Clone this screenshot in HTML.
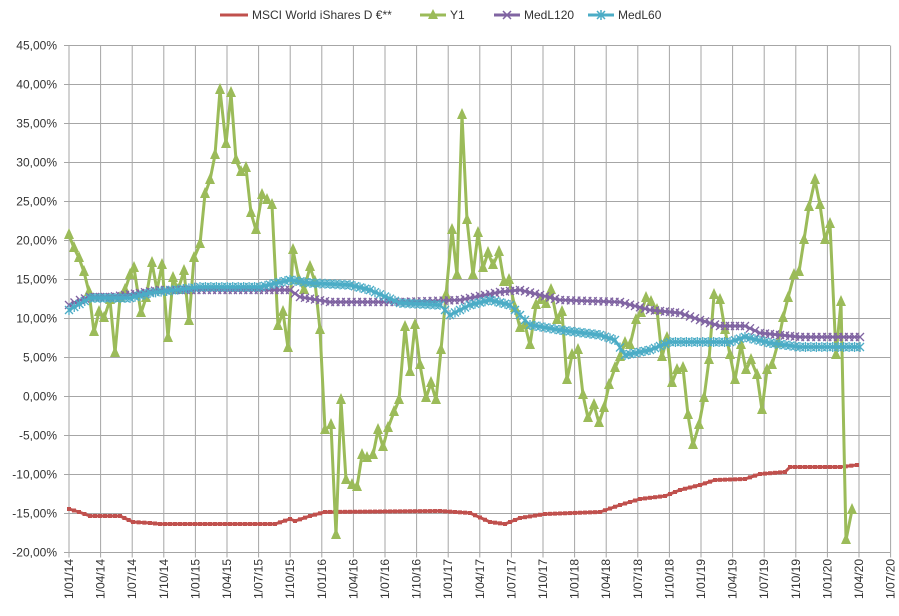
<!DOCTYPE html>
<html><head><meta charset="utf-8"><style>
body{margin:0;background:#fff;}
svg{display:block;font-family:"Liberation Sans",sans-serif;}
</style></head><body>
<svg id="s" width="899" height="616" xmlns="http://www.w3.org/2000/svg">
<g id="grid" stroke="#a6a6a6" stroke-width="1"></g>
<g id="lab" font-size="12" fill="#333"></g>
<g id="ser"></g>
<g font-size="12" fill="#333">
<line x1="220" y1="15" x2="248" y2="15" stroke="#c0504d" stroke-width="3"/>
<text x="252" y="19">MSCI World iShares D €**</text>
<line x1="420" y1="15" x2="446" y2="15" stroke="#9bbb59" stroke-width="3"/>
<polygon points="433,9 428,19 438,19" fill="#9bbb59"/>
<text x="450" y="19">Y1</text>
<line x1="494" y1="15" x2="520" y2="15" stroke="#8064a2" stroke-width="3"/>
<path d="M503,11 l8,8 M511,11 l-8,8" stroke="#8064a2" stroke-width="1.5"/>
<text x="524" y="19">MedL120</text>
<line x1="588" y1="15" x2="614" y2="15" stroke="#4bacc6" stroke-width="3"/>
<path d="M597,11 l8,8 M605,11 l-8,8 M601,10 v10" stroke="#4bacc6" stroke-width="1.5"/>
<text x="618" y="19">MedL60</text>
</g>
</svg>
<script>
var NS="http://www.w3.org/2000/svg";
function el(p,t,a,txt){var e=document.createElementNS(NS,t);for(var k in a)e.setAttribute(k,a[k]);if(txt)e.textContent=txt;p.appendChild(e);return e;}
var g=document.getElementById('grid'),lab=document.getElementById('lab'),ser=document.getElementById('ser');
var x0=69,dx=31.6,y0=45.5,dy=39;
for(var i=0;i<=13;i++){var y=y0+i*dy;el(g,'line',{x1:x0-5,x2:890,y1:y,y2:y});
var v=45-5*i;el(lab,'text',{x:57,y:y+4,'text-anchor':'end'},(v<0?'-':'')+Math.abs(v)+',00%');}
var yrs=['14','15','16','17','18','19','20'],ms=['01','04','07','10'];
for(var i=0;i<=26;i++){var x=x0+i*dx;el(g,'line',{x1:x,x2:x,y1:y0,y2:y0+13*dy+5});
var t='1/'+ms[i%4]+'/'+yrs[Math.floor(i/4)];
el(lab,'text',{x:0,y:0,'text-anchor':'end',transform:'translate('+(x+4)+',559) rotate(-90)'},t);}
function interp(pts,step){var o=[];for(var i=0;i<pts.length-1;i++){var a=pts[i],b=pts[i+1];var n=Math.max(1,Math.round((b[0]-a[0])/step));for(var j=0;j<n;j++)o.push([a[0]+(b[0]-a[0])*j/n,a[1]+(b[1]-a[1])*j/n]);}o.push(pts[pts.length-1]);return o;}
function line(pts,c,w){el(ser,'polyline',{points:pts.map(function(p){return p.join(',')}).join(' '),fill:'none',stroke:c,'stroke-width':w,'stroke-linejoin':'round'});}
var red=[[69,509],[79,512],[90,516],[120,516],[133,522],[150,523],[160,524],[275,524],[290,519],[295,521],[310,516],[325,512],[440,511],[470,513],[490,522],[505,524],[520,518],[545,514],[600,512],[620,505],[640,499],[665,496],[680,490],[700,485],[715,480],[745,479],[760,474],[785,472],[790,467],[840,467],[857,465]];
var pur=[[69,305],[80,300],[90,297],[110,297],[140,293],[160,290],[290,290],[300,297],[330,302],[400,302],[460,300],[500,292],[520,290],[560,300],[620,302],[650,310],[680,313],[700,320],[720,326],[745,326],[760,333],[800,337],[860,337]];
var cy=[[69,310],[90,298],[130,298],[150,293],[200,287],[260,287],[290,280],[310,283],[350,285],[370,290],[400,303],[440,305],[450,315],[470,305],[490,300],[510,305],[530,325],[560,330],[600,335],[615,340],[625,355],[650,350],[670,342],[730,342],[745,337],[770,343],[800,347],[860,347]];
var gr=[[69,235],[74,248],[79,258],[84,272],[89,292],[94,332],[99,312],[104,318],[110,300],[115,353],[120,298],[125,290],[130,275],[134,268],[141,313],[146,298],[152,263],[157,290],[162,265],[168,338],[173,278],[178,290],[184,271],[189,321],[194,258],[200,244],[205,194],[210,180],[215,155],[220,90],[226,144],[231,93],[236,160],[241,172],[246,168],[251,213],[256,230],[262,195],[267,200],[272,205],[278,326],[283,312],[288,348],[293,250],[299,280],[304,290],[310,267],[315,282],[320,330],[325,430],[331,425],[336,535],[341,400],[346,480],[352,485],[357,487],[362,455],[367,458],[373,455],[378,430],[383,447],[388,428],[394,412],[399,400],[405,327],[410,372],[415,325],[420,365],[426,398],[431,383],[436,400],[441,350],[446,295],[452,230],[457,275],[462,115],[467,220],[473,275],[478,233],[483,268],[488,253],[493,265],[499,252],[504,282],[509,280],[515,308],[520,328],[525,325],[530,345],[536,305],[541,300],[546,304],[551,290],[557,320],[562,312],[567,380],[572,355],[578,350],[583,395],[588,418],[594,405],[599,423],[604,408],[609,385],[615,368],[620,357],[625,343],[630,345],[636,320],[641,313],[646,298],[651,302],[657,310],[662,357],[667,338],[672,383],[677,370],[683,368],[688,415],[693,445],[699,425],[704,398],[709,360],[714,295],[720,300],[725,330],[730,355],[735,380],[741,345],[746,370],[751,360],[757,375],[762,410],[767,370],[772,365],[778,343],[783,318],[788,298],[794,275],[799,272],[804,240],[809,207],[815,180],[820,205],[825,240],[830,224],[836,355],[841,302],[846,540],[852,510]];
// red
var r=interp(red,5);line(r,'#c0504d',3);
r.forEach(function(p){el(ser,'line',{x1:p[0]-2,x2:p[0]+2,y1:p[1],y2:p[1],stroke:'#c0504d','stroke-width':4});});
// green
line(gr,'#9bbb59',3);
gr.forEach(function(p){el(ser,'polygon',{points:(p[0])+','+(p[1]-7)+' '+(p[0]-5)+','+(p[1]+4)+' '+(p[0]+5)+','+(p[1]+4),fill:'#9bbb59'});});
// purple
var pp=interp(pur,5.3);line(pp,'#8064a2',2.5);
pp.forEach(function(p){el(ser,'path',{d:'M'+(p[0]-4)+','+(p[1]-4)+' l8,8 M'+(p[0]+4)+','+(p[1]-4)+' l-8,8',stroke:'#8064a2','stroke-width':1.3});});
// cyan
var cc=interp(cy,5.3);line(cc,'#4bacc6',2.5);
cc.forEach(function(p){el(ser,'path',{d:'M'+(p[0]-4)+','+(p[1]-4)+' l8,8 M'+(p[0]+4)+','+(p[1]-4)+' l-8,8 M'+p[0]+','+(p[1]-5)+' v10',stroke:'#4bacc6','stroke-width':1.3});});
</script>
</body></html>
